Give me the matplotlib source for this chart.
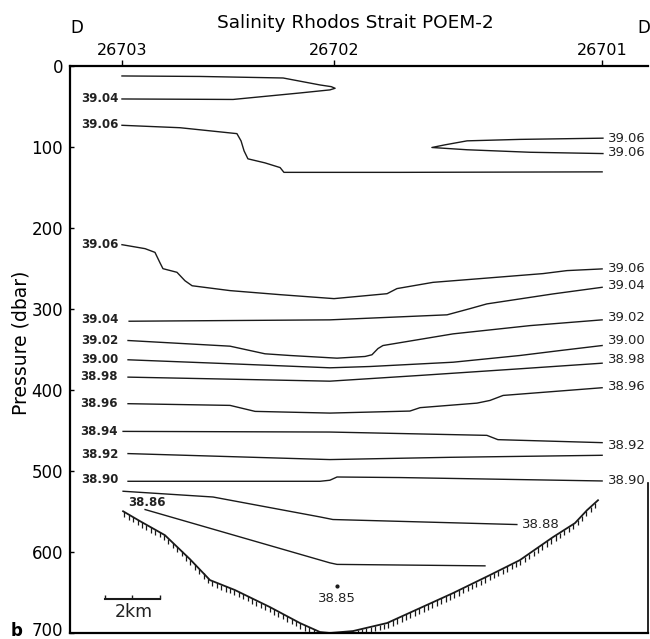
import numpy as np
import matplotlib
matplotlib.use("Agg")
import matplotlib.pyplot as plt
import matplotlib.transforms as mtransforms

# ---------------- data (x: km along section, y: pressure dbar) ----------------
stations = ["26703", "26702", "26701"]
station_km = [1.89, 9.60, 19.35]
yticks = [0, 100, 200, 300, 400, 500, 600, 700]

lens_top_x = [1.89, 4.73, 7.75, 9.09, 9.50, 9.64, 9.45, 8.36, 5.93, 1.89]
lens_top_y = [12.3, 12.9, 14.8, 23.4, 25.5, 27.5, 29.5, 33.3, 41.3, 40.7]

s3906a_x = [1.89, 4.0, 6.07, 6.22, 6.33, 6.47, 7.09, 7.64, 7.78, 12.0, 19.35]
s3906a_y = [73.2, 76.2, 83.5, 92.5, 104.8, 114.6, 119.6, 125.4, 131.3, 131.3, 130.7]

lens_r_x = [19.38, 16.36, 14.44, 13.64, 13.16, 14.44, 16.73, 19.38]
lens_r_y = [89.1, 90.6, 92.4, 97.3, 100.6, 103.4, 106.5, 108.1]

s3906b_x = [1.89, 2.73, 3.09, 3.27, 3.38, 3.89, 4.18, 4.44, 5.82, 7.64, 9.6, 11.53, 11.89, 13.2, 14.91, 17.2, 18.07, 19.35]
s3906b_y = [220.6, 225.5, 230.1, 242.8, 250.2, 254.7, 265.1, 271.3, 277.3, 282.3, 287.2, 281.1, 274.8, 267.1, 262.5, 256.3, 252.6, 250.5]

s3904_x = [2.15, 9.45, 13.71, 14.55, 15.16, 17.56, 19.35]
s3904_y = [315.1, 313.4, 307.2, 299.5, 293.7, 281.4, 273.2]

s3902_x = [2.11, 5.82, 7.09, 8.0, 9.71, 10.73, 10.98, 11.2, 11.38, 13.93, 16.73, 19.35]
s3902_y = [338.9, 345.9, 355.3, 357.4, 360.7, 358.6, 356.5, 348.8, 345.1, 330.7, 320.5, 313.4]

s3900_x = [2.11, 5.82, 9.45, 10.91, 13.93, 16.36, 17.82, 19.35]
s3900_y = [362.7, 367.6, 372.6, 371.0, 365.7, 357.4, 351.3, 345.1]

s3898_x = [2.11, 9.45, 12.73, 16.36, 19.35]
s3898_y = [384.1, 389.1, 382.0, 373.8, 366.9]

s3896_x = [2.11, 5.82, 6.73, 9.45, 12.36, 12.73, 14.8, 15.27, 15.75, 19.35]
s3896_y = [416.9, 419.0, 426.4, 428.5, 426.0, 421.8, 416.2, 412.9, 406.7, 397.2]

s3894_x = [1.93, 9.45, 15.16, 15.56, 19.35]
s3894_y = [451.1, 451.9, 456.0, 461.3, 465.0]

s3892_x = [2.11, 9.45, 13.82, 19.35]
s3892_y = [478.5, 485.9, 483.1, 480.6]

s3890_x = [2.11, 9.09, 9.45, 9.71, 12.0, 19.35]
s3890_y = [512.7, 512.7, 511.4, 507.4, 508.1, 512.3]

s3888_x = [1.93, 5.2, 9.09, 9.56, 16.25]
s3888_y = [525.0, 532.1, 556.7, 559.9, 566.1]

s3886_x = [2.73, 9.45, 9.71, 15.09]
s3886_y = [547.6, 613.4, 615.3, 617.1]

floor_x = [1.93, 2.55, 3.45, 4.36, 5.09, 6.0, 7.27, 8.36, 9.09, 9.45, 10.29, 11.53, 12.73, 13.93, 15.27, 16.36, 17.56, 18.36, 18.8, 19.2]
floor_y = [549.7, 562.0, 579.2, 608.8, 634.7, 647.0, 668.0, 687.7, 698.8, 700.0, 697.6, 687.7, 669.2, 650.7, 628.5, 610.0, 581.7, 564.4, 548.4, 536.1]

# left labels (text, y)
left_labels = ["39.04", "39.06", "39.06", "39.04", "39.02", "39.00", "38.98", "38.96", "38.94", "38.92", "38.90"]
left_label_y = [40.7, 72.5, 220.6, 313.4, 338.9, 362.3, 383.5, 416.5, 451.0, 480.0, 510.5]
# right labels
right_labels = ["39.06", "39.06", "39.06", "39.04", "39.02", "39.00", "38.98", "38.96", "38.92", "38.90"]
right_label_y = [89.0, 107.3, 250.0, 271.5, 311.0, 339.0, 362.5, 395.5, 468.0, 512.0]

# ---------------- figure ----------------
fig = plt.figure(figsize=(6.5, 6.39), dpi=100)
ax = fig.add_axes([70/650, 6/639, 578/650, 567/639])
ax.set_xlim(0, 578/27.5)
ax.set_ylim(700, 0)

lw = 1.0
col = "#1a1a1a"
txtcol = "#222222"
lines = [(lens_top_x, lens_top_y), (s3906a_x, s3906a_y), (lens_r_x, lens_r_y),
         (s3906b_x, s3906b_y), (s3904_x, s3904_y), (s3902_x, s3902_y),
         (s3900_x, s3900_y), (s3898_x, s3898_y), (s3896_x, s3896_y),
         (s3894_x, s3894_y), (s3892_x, s3892_y), (s3890_x, s3890_y),
         (s3888_x, s3888_y), (s3886_x, s3886_y)]
for xs, ys in lines:
    ax.plot(xs, ys, color=col, lw=lw, solid_joinstyle="round")

# sea floor with hatching
ax.plot(floor_x, floor_y, color=col, lw=1.3, clip_on=False)
hx = np.arange(floor_x[0] + 0.05, floor_x[-1], 0.16)
hy = np.interp(hx, floor_x, floor_y)
ax.vlines(hx, hy, np.minimum(hy + 6.5, 700), color=col, lw=0.9)

# labels
for t, y in zip(left_labels, left_label_y):
    ax.text(1.75, y, t, ha="right", va="center", fontsize=8.5, fontweight="bold", color=txtcol)
for t, y in zip(right_labels, right_label_y):
    ax.text(19.55, y, t, ha="left", va="center", fontsize=9.5, color=txtcol)
ax.text(16.45, 565.5, "38.88", ha="left", va="center", fontsize=9.5, color=txtcol)
ax.text(2.11, 538.5, "38.86", ha="left", va="center", fontsize=8.5, fontweight="bold", color=txtcol)
ax.text(9.71, 658, "38.85", ha="center", va="center", fontsize=9.5, color=txtcol)
ax.plot([9.71], [642], "o", ms=2, color=col)

# scale bar
ax.plot([1.27, 3.27], [658, 658], color=col, lw=1.5)
ax.plot([1.27, 2.27, 3.27], [656, 656, 656], "|", ms=3, color=col)
ax.text(2.33, 674, "2km", ha="center", va="center", fontsize=12.5, color=txtcol)

# axes styling
for s in ["left", "top", "bottom"]:
    ax.spines[s].set_linewidth(1.6)
ax.spines["right"].set_linewidth(1.2)
ax.spines["right"].set_bounds(515, 700)

ax.set_yticks(yticks)
ax.set_yticklabels([str(v) for v in yticks])
ax.tick_params(axis="y", direction="in", length=3, width=1, labelsize=12, pad=5)
last = ax.get_yticklabels()[-1]
last.set_va("baseline")
last.set_transform(last.get_transform() + mtransforms.ScaledTranslation(0, -0.025, fig.dpi_scale_trans))

ax.xaxis.set_ticks_position("top")
ax.set_xticks(station_km)
ax.set_xticklabels(stations)
ax.tick_params(axis="x", direction="out", length=4, width=1, labelsize=11.5, pad=2)

ax.set_ylabel("Pressure (dbar)", fontsize=13.5)
ax.yaxis.set_label_coords(-0.069, 0.511)

fig.text(355/650, 1 - 28/639, "Salinity Rhodos Strait POEM-2", ha="center", va="baseline", fontsize=13.3)
fig.text(77/650, 1 - 33/639, "D", ha="center", va="baseline", fontsize=12)
fig.text(644/650, 1 - 33/639, "D", ha="center", va="baseline", fontsize=12)
fig.text(17/650, 1 - 636/639, "b", ha="center", va="baseline", fontsize=12, fontweight="bold")

fig.savefig("out.png", dpi=100)
